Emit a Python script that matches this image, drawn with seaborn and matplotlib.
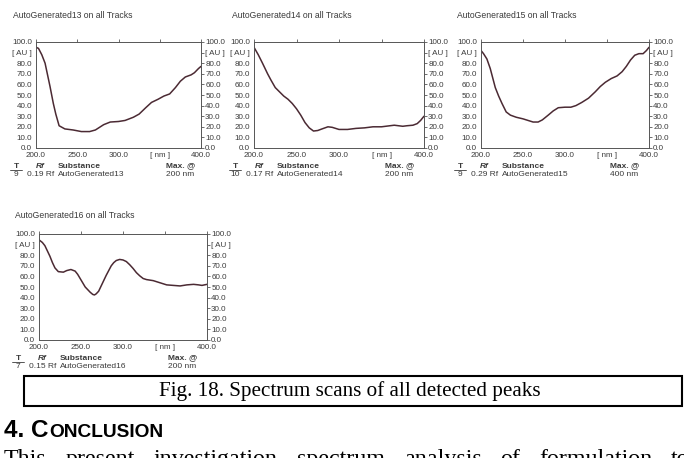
import matplotlib
matplotlib.use("Agg")
import matplotlib.pyplot as plt
import matplotlib.patches as mpatches
import pandas as pd
import seaborn as sns

W, H = 684, 458

# spectra: wavelength [nm] -> absorbance [AU]
nm13 = [200, 203, 207, 211, 214, 217, 221, 224, 228, 235, 245, 255, 265, 272, 282, 290, 300, 308, 318, 325, 333, 340, 348, 355, 362, 369, 375, 381, 388, 392, 397, 400]
au13 = [95, 94, 88, 80, 69, 58, 42, 32, 21, 18, 17, 15.5, 15.5, 17, 22, 24.5, 25, 26, 29, 32, 38, 43, 46, 49, 51, 57, 63, 67, 69, 71, 75, 77]

nm14 = [200, 205, 210, 216, 220, 225, 230, 235, 240, 245, 250, 255, 260, 265, 270, 275, 280, 287, 292, 300, 310, 320, 330, 340, 350, 360, 365, 370, 375, 380, 387, 392, 396, 400]
au14 = [95, 88, 80, 70, 64, 57, 53, 49, 46, 42, 37, 31, 24, 19, 16, 16.5, 18, 20, 19.5, 17.5, 17.5, 18.5, 19, 20, 20, 21, 21.5, 21, 20.5, 21, 21.5, 23, 26, 30]

nm15 = [200, 203, 207, 211, 214, 217, 221, 225, 230, 235, 242, 250, 256, 262, 268, 273, 280, 286, 292, 300, 307, 313, 320, 328, 336, 342, 348, 355, 362, 368, 373, 378, 383, 388, 393, 397, 400]
au15 = [92, 89, 84, 75, 66, 57, 49, 42, 34, 31, 29, 27.5, 26, 24.5, 24.5, 26.5, 31, 35, 38, 38.5, 38.5, 40, 43, 47, 53, 58, 62, 65.5, 68, 72, 77, 83, 87.5, 89, 89, 92, 95]

nm16 = [200, 204, 207, 210, 213, 216, 219, 223, 229, 233, 238, 243, 246, 249, 252, 255, 258, 261, 264, 266, 268, 271, 274, 277, 280, 283, 286, 289, 292, 296, 300, 304, 308, 312, 316, 320, 324, 328, 336, 344, 352, 360, 368, 376, 384, 390, 394, 400]
au16 = [94.5, 92, 89, 84, 79, 73, 68, 64.5, 64, 65.5, 66.5, 65, 62, 58, 54, 50, 47.5, 45, 43, 42.5, 43.5, 46, 51, 56, 61, 65.5, 70, 73, 75, 76, 75.5, 74, 71, 67.5, 63.5, 60.5, 58, 57, 56, 54, 52, 51.5, 51, 52, 52.5, 52, 51.5, 52.5]

substances = ["AutoGenerated13", "AutoGenerated14", "AutoGenerated15", "AutoGenerated16"]
tracks = ["9", "10", "9", "7"]
rf_vals = ["0.19", "0.17", "0.29", "0.15"]
max_at = ["200 nm", "200 nm", "400 nm", "200 nm"]
spectra = [(nm13, au13), (nm14, au14), (nm15, au15), (nm16, au16)]

y_ticks = [0, 10, 20, 30, 40, 50, 60, 70, 80, 90, 100]
y_labels = ["0.0", "10.0", "20.0", "30.0", "40.0", "50.0", "60.0", "70.0", "80.0", "[ AU ]", "100.0"]
x_ticks = [200, 250, 300, 350, 400]
x_labels = ["200.0", "250.0", "300.0", "[ nm ]", "400.0"]

caption = "Fig. 18. Spectrum scans of all detected peaks"
body_words = ["This", "present", "investigation", "spectrum", "analysis", "of", "formulation", "to"]

sns.set_style("white")
plt.rcParams["font.family"] = ["Liberation Sans", "DejaVu Sans"]

# panel boxes in pixels: left, top, right, bottom ; title position
boxes = [(36, 42, 201, 148), (254, 42, 424, 148), (481, 42, 649, 148), (39, 234, 207, 340)]
titles_xy = [(13, 15), (232, 15), (457, 15), (15, 215)]

fig = plt.figure(figsize=(W / 100, H / 100), dpi=100)

def fx(px): return px / W
def fy(py): return 1 - py / H

txt_col = "#3a3a3a"
for i, (l, t, r, b) in enumerate(boxes):
    ax = fig.add_axes([fx(l), fy(b), (r - l) / W, (b - t) / H])
    df = pd.DataFrame({"nm": spectra[i][0], "AU": spectra[i][1]})
    sns.lineplot(data=df, x="nm", y="AU", ax=ax, color="#4b2a33", linewidth=1.1, estimator=None)
    ax.set_xlim(200, 400)
    ax.set_ylim(0, 100)
    ax.set_xticks(x_ticks)
    ax.set_xticklabels(x_labels)
    ax.set_yticks(y_ticks)
    ax.set_yticklabels(y_labels)
    ax.set_xlabel("")
    ax.set_ylabel("")
    ax.tick_params(axis="both", direction="out", length=2, width=0.6, color="#555555",
                   labelsize=5.8, labelcolor=txt_col, pad=1)
    ax.tick_params(axis="y", right=True, labelright=True)
    ax.tick_params(axis="x", top=True)
    for sp in ax.spines.values():
        sp.set_visible(True)
        sp.set_color("#555555")
        sp.set_linewidth(0.7)

    tx, ty = titles_xy[i]
    fig.text(fx(tx), fy(ty), f"{substances[i]} on all Tracks", fontsize=6.2, color=txt_col, va="center")

    hy, vy = b + 18, b + 26
    fig.text(fx(tx + 3), fy(hy), "T", fontsize=6, color=txt_col, ha="center", va="center", fontweight="bold")
    fig.add_artist(plt.Line2D([fx(tx - 3), fx(tx + 9)], [fy(hy + 3.5), fy(hy + 3.5)], color=txt_col, lw=0.6))
    fig.text(fx(tx + 3), fy(vy), tracks[i], fontsize=6, color=txt_col, ha="center", va="center")
    fig.text(fx(tx + 23), fy(hy), "Rf", fontsize=6, color=txt_col, va="center", fontweight="bold", style="italic")
    fig.text(fx(tx + 14), fy(vy), f"{rf_vals[i]} Rf", fontsize=6, color=txt_col, va="center")
    fig.text(fx(tx + 45), fy(hy), "Substance", fontsize=6, color=txt_col, va="center", fontweight="bold")
    fig.text(fx(tx + 45), fy(vy), substances[i], fontsize=6, color=txt_col, va="center")
    fig.text(fx(tx + 153), fy(hy), "Max. @", fontsize=6, color=txt_col, va="center", fontweight="bold")
    fig.text(fx(tx + 153), fy(vy), max_at[i], fontsize=6, color=txt_col, va="center")

# caption box
fig.add_artist(mpatches.Rectangle((fx(24), fy(406)), (682 - 24) / W, (406 - 376) / H,
                                  fill=False, edgecolor="black", linewidth=1.5, transform=fig.transFigure))
fig.text(fx(350), fy(391), caption, family=["Liberation Serif", "DejaVu Serif"], fontsize=15.2,
         ha="center", va="center", color="black")

# section heading with small caps
renderer = fig.canvas.get_renderer()
h1 = fig.text(fx(4), fy(437), "4. C", fontsize=17.5, fontweight="bold", va="baseline", color="black")
ext = h1.get_window_extent(renderer=renderer)
fig.text(ext.x1 / W + 0.001, fy(437), "ONCLUSION", fontsize=13.8, fontweight="bold", va="baseline", color="black")

# first line of body text, cut by the page edge
word_x = [4, 66, 154, 297, 404, 500, 539, 671]
for w, x in zip(body_words, word_x):
    fig.text(fx(x), fy(465), w, family=["Liberation Serif", "DejaVu Serif"], fontsize=17.3,
             va="baseline", color="black")

fig.savefig("out.png", dpi=100)
